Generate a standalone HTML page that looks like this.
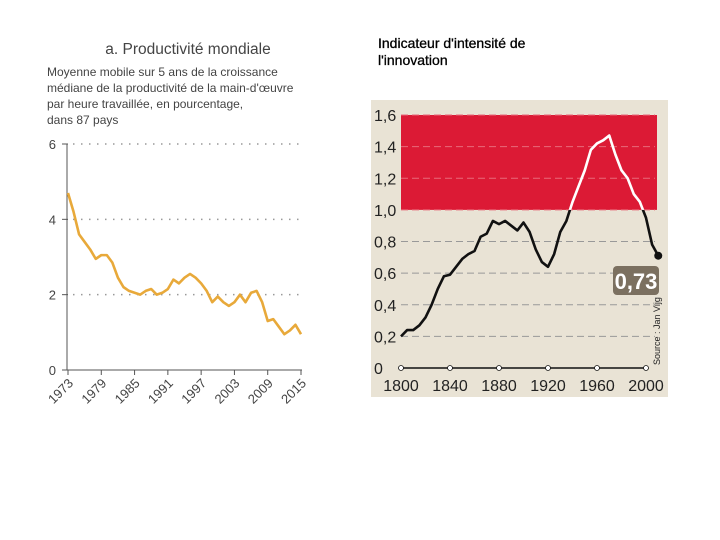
<!DOCTYPE html>
<html><head><meta charset="utf-8"><style>
body{margin:0;width:720px;height:540px;background:#fff;overflow:hidden;font-family:"Liberation Sans",sans-serif}
svg{position:absolute;left:0;top:0}
</style></head><body>
<svg id="s" width="720" height="540">
<text x="188" y="54" font-size="15.5" fill="#444" text-anchor="middle">a. Productivité mondiale</text>
<g font-size="12" fill="#444">
<text x="47" y="76">Moyenne mobile sur 5 ans de la croissance</text>
<text x="47" y="92">médiane de la productivité de la main-d'œuvre</text>
<text x="47" y="108">par heure travaillée, en pourcentage,</text>
<text x="47" y="124">dans 87 pays</text>
</g>
<text x="378" y="48" font-size="14" fill="#000" stroke="#000" stroke-width="0.3">Indicateur d'intensité de</text>
<text x="378" y="65" font-size="14" fill="#000" stroke="#000" stroke-width="0.3">l'innovation</text>
<rect x="371" y="100" width="297" height="297" fill="#e9e3d5"/>
<g id="L"></g><g id="R"></g>
</svg>
<script>
const leftYears=[1973,1974,1975,1976,1977,1978,1979,1980,1981,1982,1983,1984,1985,1986,1987,1988,1989,1990,1991,1992,1993,1994,1995,1996,1997,1998,1999,2000,2001,2002,2003,2004,2005,2006,2007,2008,2009,2010,2011,2012,2013,2014,2015];
const leftValues=[4.7,4.2,3.6,3.4,3.2,2.95,3.05,3.05,2.85,2.45,2.2,2.1,2.05,2.0,2.1,2.15,2.0,2.05,2.15,2.4,2.3,2.45,2.55,2.45,2.3,2.1,1.8,1.95,1.8,1.7,1.8,2.0,1.8,2.05,2.1,1.8,1.3,1.35,1.15,0.95,1.05,1.2,0.95];
const leftYTicks=[0,2,4,6];
const leftXTicks=[1973,1979,1985,1991,1997,2003,2009,2015];
const rightYears=[1800,1805,1810,1815,1820,1825,1830,1835,1840,1845,1850,1855,1860,1865,1870,1875,1880,1885,1890,1895,1900,1905,1910,1915,1920,1925,1930,1935,1940,1945,1950,1955,1960,1965,1970,1975,1980,1985,1990,1995,2000,2005,2010];
const rightValues=[0.2,0.24,0.24,0.27,0.32,0.4,0.5,0.58,0.59,0.64,0.69,0.72,0.74,0.83,0.85,0.93,0.91,0.93,0.9,0.87,0.92,0.86,0.75,0.67,0.64,0.72,0.86,0.93,1.05,1.15,1.25,1.38,1.42,1.44,1.47,1.35,1.25,1.2,1.1,1.05,0.95,0.78,0.71];
const rightYTicks=[0,0.2,0.4,0.6,0.8,1.0,1.2,1.4,1.6];
const rightXTicks=[1800,1840,1880,1920,1960,2000];
const lastLabel="0,73";
const NS="http://www.w3.org/2000/svg";
function mk(p,t,a){const e=document.createElementNS(NS,t);for(const k in a)e.setAttribute(k,a[k]);p.appendChild(e);return e;}
const lx=v=>68+(v-1973)*(233/42), ly=v=>370-v*(226/6);
const L=document.getElementById('L');
mk(L,'line',{x1:67,y1:144,x2:67,y2:370,stroke:'#555','stroke-width':1});
leftYTicks.forEach(t=>{
 if(t>0){const g=mk(L,'line',{x1:73,y1:ly(t),x2:301,y2:ly(t),stroke:'#999','stroke-width':1.5,'stroke-dasharray':'1.5 6.5'});
 }
 mk(L,'line',{x1:62,y1:ly(t),x2:68,y2:ly(t),stroke:'#555'});
 const tx=mk(L,'text',{x:56,y:ly(t)+5,'font-size':13,fill:'#444','text-anchor':'end'});tx.textContent=t;
 
});
mk(L,'line',{x1:67,y1:370,x2:302,y2:370,stroke:'#555'});
leftXTicks.forEach(t=>{
 mk(L,'line',{x1:lx(t),y1:370,x2:lx(t),y2:375,stroke:'#555'});
 const tx=mk(L,'text',{x:lx(t)+6,y:384,'font-size':13,fill:'#444','text-anchor':'end',transform:`rotate(-45 ${lx(t)+6} 384)`});tx.textContent=t;
 
});
const lp=mk(L,'polyline',{points:leftYears.map((y,i)=>lx(y)+','+ly(leftValues[i])).join(' '),fill:'none',stroke:'#e8a93a','stroke-width':2.6,'stroke-linejoin':'round'});

const rx=v=>401+(v-1800)*(245/200), ry=v=>368-v*(253/1.6);
const R=document.getElementById('R');
const band=mk(R,'rect',{x:401,y:ry(1.6),width:256,height:ry(1.0)-ry(1.6),fill:'#dc1a35'});

rightYTicks.forEach(t=>{
 if(t>0){const g=mk(R,'line',{x1:401,y1:ry(t),x2:655,y2:ry(t),stroke:t>=1?'#e86a7a':'#999','stroke-width':1,'stroke-dasharray':'7 4'});
 }
 const tx=mk(R,'text',{x:374,y:ry(t)+6,'font-size':16,fill:'#222'});tx.textContent=t===0?'0':t.toFixed(1).replace('.',',');
 
});
mk(R,'line',{x1:401,y1:368,x2:646,y2:368,stroke:'#111','stroke-width':1.5});
rightXTicks.forEach(t=>{
 mk(R,'circle',{cx:rx(t),cy:368,r:2.5,fill:'#fff',stroke:'#111','stroke-width':0.8});
 const tx=mk(R,'text',{x:rx(t),y:391,'font-size':16,fill:'#222','text-anchor':'middle'});tx.textContent=t;
 
});
const defs=mk(R,'defs',{});
const c1=mk(defs,'clipPath',{id:'above'});mk(c1,'rect',{x:370,y:100,width:300,height:ry(1.0)-100});
const c2=mk(defs,'clipPath',{id:'below'});mk(c2,'rect',{x:370,y:ry(1.0),width:300,height:300});
const pts=rightYears.map((y,i)=>rx(y)+','+ry(rightValues[i])).join(' ');
const p1=mk(R,'polyline',{points:pts,fill:'none',stroke:'#111','stroke-width':2.6,'stroke-linejoin':'round','clip-path':'url(#below)'});

const p2=mk(R,'polyline',{points:pts,fill:'none',stroke:'#fff','stroke-width':2.6,'stroke-linejoin':'round','clip-path':'url(#above)'});

const lastX=rx(rightYears[rightYears.length-1]),lastY=ry(rightValues[rightValues.length-1]);
const dot=mk(R,'circle',{cx:lastX,cy:lastY,r:4,fill:'#111'});

const box=mk(R,'rect',{x:613,y:266,width:46,height:29,rx:4,fill:'#7b7060'});

const bt=mk(R,'text',{x:636,y:289,'font-size':22,'font-weight':'bold',fill:'#fff','text-anchor':'middle'});bt.textContent=lastLabel;

const src=mk(R,'text',{x:660,y:365,'font-size':9,fill:'#222',transform:'rotate(-90 660 365)'});src.textContent='Source : Jan Vijg';

</script>
</body></html>
